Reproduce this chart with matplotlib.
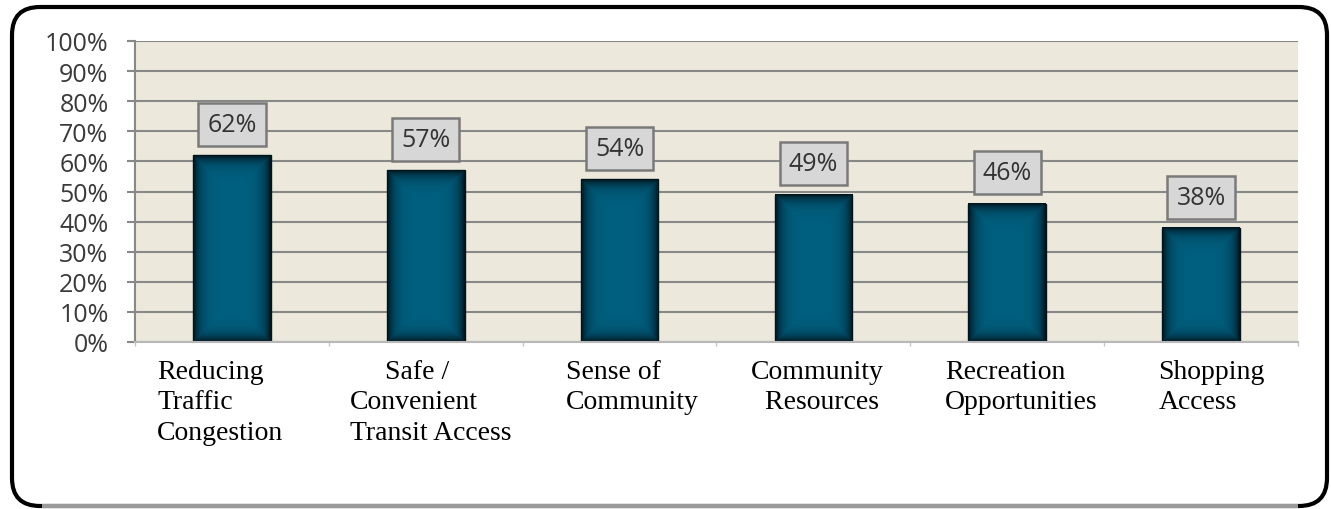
import numpy as np
import matplotlib
matplotlib.use("Agg")
import matplotlib.pyplot as plt
from matplotlib.patches import FancyBboxPatch
from matplotlib.ticker import MultipleLocator, FixedLocator, PercentFormatter

# Survey results: share of respondents naming each benefit
categories = [
    "Reducing\nTraffic\nCongestion",
    "     Safe /\nConvenient\nTransit Access",
    "Sense of\nCommunity",
    "Community\n  Resources",
    "Recreation\nOpportunities",
    "Shopping\nAccess",
]
percent = [62, 57, 54, 49, 46, 38]

# left edge of each category label, relative to its bar centre (category units)
label_shift = [-0.386, -0.39, -0.276, -0.321, -0.32, -0.221]

BAR_COLOR = np.array([0x00, 0x60, 0x80]) / 255
BAR_DARK = np.array([0x01, 0x0e, 0x14]) / 255
BAR_WIDTH = 0.4

W, H = 1331, 510
fig = plt.figure(figsize=(W / 100, H / 100), dpi=100, facecolor="white")

# rounded frame around the whole chart, drawn in pixel units
bg = fig.add_axes([0, 0, 1, 1], zorder=-1)
bg.set_xlim(0, W)
bg.set_ylim(H, 0)
bg.axis("off")
bg.add_patch(FancyBboxPatch((12, 8), 1315, 499,
                            boxstyle="round,pad=0,rounding_size=28",
                            facecolor="white", edgecolor="black", lw=3.0))
bg.plot([42, 1298], [507, 507], color="#9a9a9a", lw=3.0, solid_capstyle="butt")

ax = fig.add_axes([135 / W, (H - 343) / H, (1298 - 135) / W, (343 - 42) / H])
ax.set_facecolor("#ece9dc")

x = np.arange(len(percent))
bars = ax.bar(x, percent, width=BAR_WIDTH, color=BAR_COLOR,
              edgecolor="#06141a", linewidth=1.0, zorder=2)

# darkened edges on every bar
px_per_unit_x = (1298 - 135) / len(percent)
px_per_unit_y = (343 - 42) / 100
for xi, v in zip(x, percent):
    wpx = int(BAR_WIDTH * px_per_unit_x)
    hpx = int(v * px_per_unit_y)
    cx = np.arange(wpx) + 0.5
    cy = np.arange(hpx) + 0.5
    dx = np.minimum(cx, wpx - cx)[None, :]
    dy = np.minimum(cy, hpx - cy)[:, None]
    d = np.minimum(dx, dy)
    k = np.exp(-d / 6.5)
    img = BAR_COLOR[None, None, :] * (1 - k[..., None]) + BAR_DARK[None, None, :] * k[..., None]
    ax.imshow(img, extent=(xi - BAR_WIDTH / 2, xi + BAR_WIDTH / 2, 0, v),
              aspect="auto", interpolation="bilinear", zorder=2.5)

# value boxes above the bars
for xi, v in zip(x, percent):
    ax.annotate(f"{v}%", (xi, v), xytext=(0, 13), textcoords="offset points",
                ha="center", va="bottom", fontsize=18, family="Open Sans",
                color="#333333", zorder=4,
                bbox=dict(boxstyle="square,pad=0.36", facecolor="#d7d7d7",
                          edgecolor="#7a7a7a", lw=1.8))

ax.set_xlim(-0.5, len(percent) - 0.5)
ax.set_ylim(0, 100)
ax.yaxis.set_major_locator(MultipleLocator(10))
ax.yaxis.set_major_formatter(PercentFormatter(decimals=0))
ax.set_axisbelow(True)
ax.grid(axis="y", color="#888888", lw=1.5)

ax.xaxis.set_major_locator(FixedLocator(np.arange(len(percent) + 1) - 0.5))
ax.set_xticklabels([])
ax.tick_params(axis="x", length=3, color="#c4c4c4", width=1.0)
ax.tick_params(axis="y", direction="out", length=6, color="#888888", width=1.5,
               labelsize=18, labelcolor="#3a3a3a", pad=13)
for lbl in ax.get_yticklabels():
    lbl.set_family("Open Sans")

for side in ("top", "right"):
    ax.spines[side].set_visible(False)
ax.spines["left"].set_color("#888888")
ax.spines["left"].set_linewidth(1.5)
ax.spines["bottom"].set_color("#b8b8b8")
ax.spines["bottom"].set_linewidth(1.5)

# category names, left aligned under each bar
for xi, name, shift in zip(x, categories, label_shift):
    ax.text(xi + shift, -0.055, name, transform=ax.get_xaxis_transform(),
            ha="left", va="top", multialignment="left", fontsize=20,
            family="Liberation Serif", color="black", linespacing=1.3)

fig.savefig("out.png", dpi=100, facecolor="white")
